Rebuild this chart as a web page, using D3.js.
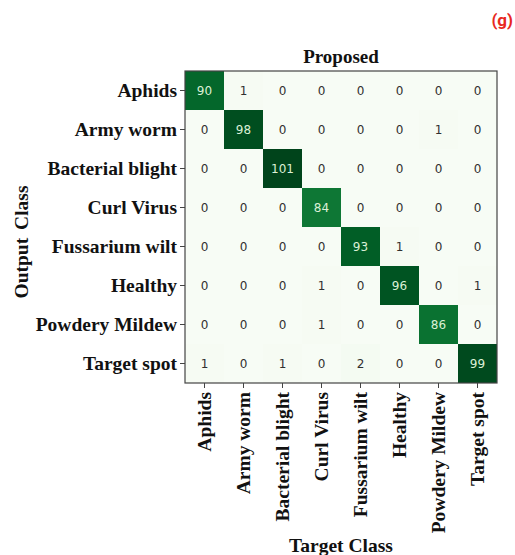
<!DOCTYPE html>
<html>
<head>
<meta charset="utf-8">
<title>Confusion matrix</title>
<style>
  html, body { margin: 0; background: #fff; }
  svg { display: block; }
  .lbl { font-family: "Liberation Serif", "Times New Roman", serif; font-weight: bold; fill: #111; }
  .cell-txt { font-family: "DejaVu Sans", sans-serif; font-size: 12px; }
</style>
<script src="https://d3js.org/d3.v7.min.js"></script>
</head>
<body>
<svg id="chart"></svg>
<script>
// classes (rows = output, cols = target)
const classes = ["Aphids", "Army worm", "Bacterial blight", "Curl Virus",
                 "Fussarium wilt", "Healthy", "Powdery Mildew", "Target spot"];
const matrix = [
  [90, 1, 0, 0, 0, 0, 0, 0],
  [0, 98, 0, 0, 0, 0, 1, 0],
  [0, 0, 101, 0, 0, 0, 0, 0],
  [0, 0, 0, 84, 0, 0, 0, 0],
  [0, 0, 0, 0, 93, 1, 0, 0],
  [0, 0, 0, 1, 0, 96, 0, 1],
  [0, 0, 0, 1, 0, 0, 86, 0],
  [1, 0, 1, 0, 2, 0, 0, 99]
];

const W = 515, H = 555;
const gx = 185, gy = 71, size = 312;

const svg = d3.select("#chart").attr("width", W).attr("height", H);

const x = d3.scaleBand().domain(classes).range([gx, gx + size]);
const y = d3.scaleBand().domain(classes).range([gy, gy + size]);
const color = d3.scaleSequential(d3.interpolateGreens).domain([0, 101]);

const cells = [];
matrix.forEach((row, i) => row.forEach((v, j) => cells.push({ r: classes[i], c: classes[j], v: v })));

svg.selectAll("rect.cell")
  .data(cells)
  .enter()
  .append("rect")
  .attr("class", "cell")
  .attr("x", d => x(d.c))
  .attr("y", d => y(d.r))
  .attr("width", x.bandwidth())
  .attr("height", y.bandwidth())
  .attr("fill", d => color(d.v));

svg.selectAll("text.cell-txt")
  .data(cells)
  .enter()
  .append("text")
  .attr("class", "cell-txt")
  .attr("x", d => x(d.c) + x.bandwidth() / 2)
  .attr("y", d => y(d.r) + y.bandwidth() / 2)
  .attr("text-anchor", "middle")
  .attr("dominant-baseline", "central")
  .attr("fill", d => d.v > 50 ? "#dcf0d6" : "#303030")
  .text(d => d.v);

// frame
svg.append("rect")
  .attr("x", gx).attr("y", gy)
  .attr("width", size).attr("height", size)
  .attr("fill", "none")
  .attr("stroke", "#444")
  .attr("stroke-width", 1.2);

// left axis
const yAxis = svg.append("g")
  .attr("transform", "translate(" + gx + ",0)")
  .call(d3.axisLeft(y).tickSize(5).tickPadding(3));
yAxis.select(".domain").remove();
yAxis.selectAll("line").attr("stroke", "#444");
yAxis.selectAll("text").attr("class", "lbl").attr("font-size", "19.5px").attr("fill", "#111");

// bottom axis
const xAxis = svg.append("g")
  .attr("transform", "translate(0," + (gy + size) + ")")
  .call(d3.axisBottom(x).tickSize(5).tickPadding(3));
xAxis.select(".domain").remove();
xAxis.selectAll("line").attr("stroke", "#444");
xAxis.selectAll("text")
  .attr("class", "lbl")
  .attr("font-size", "19.5px")
  .attr("fill", "#111")
  .attr("text-anchor", "end")
  .attr("dy", null)
  .attr("transform", "rotate(-90)")
  .attr("x", -9)
  .attr("y", 0)
  .attr("dominant-baseline", "central");

svg.append("text")
  .attr("class", "lbl")
  .attr("x", gx + size / 2)
  .attr("y", 63)
  .attr("text-anchor", "middle")
  .attr("font-size", "19px")
  .text("Proposed");

svg.append("text")
  .attr("class", "lbl")
  .attr("x", gx + size / 2)
  .attr("y", 552)
  .attr("text-anchor", "middle")
  .attr("font-size", "19.5px")
  .text("Target Class");

svg.append("text")
  .attr("class", "lbl")
  .attr("transform", "translate(28,242) rotate(-90)")
  .attr("text-anchor", "middle")
  .attr("font-size", "19.5px")
  .attr("word-spacing", "3px")
  .text("Output Class");

svg.append("text")
  .attr("x", 513)
  .attr("y", 26)
  .attr("text-anchor", "end")
  .attr("font-family", "Roboto, 'Noto Sans', sans-serif")
  .attr("font-weight", "bold")
  .attr("font-size", "17px")
  .attr("fill", "#e8281e")
  .text("(g)");
</script>
</body>
</html>
